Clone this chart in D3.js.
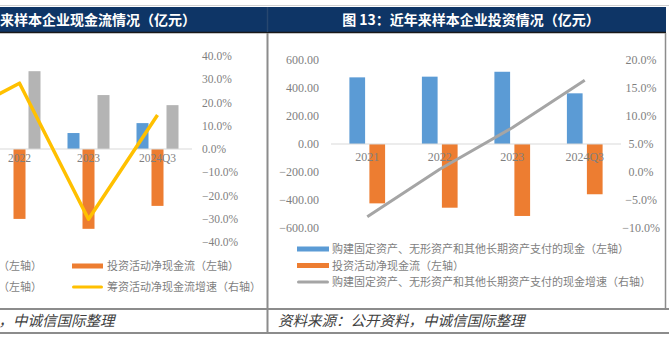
<!DOCTYPE html>
<html>
<head>
<meta charset="utf-8">
<script src="https://cdn.jsdelivr.net/npm/d3@7"></script>
<style>
  body { margin: 0; background: #fff; }
  svg { display: block; }
  .tick-num { font-family: "Liberation Serif", "DejaVu Serif", serif; fill: #7f7f7f; }
  .cjk { font-family: "Noto Sans CJK SC", sans-serif; }
</style>
</head>
<body>
<div id="chart"></div>
<script>
// categories shared by both figures
const categories = ['2021', '2022', '2023', '2024Q3'];

// figure 12 (cut off at the left): cash flow, 亿元 / %
const fig12Series = ['经营活动净现金流（左轴）', '投资活动净现金流（左轴）', '筹资活动净现金流（左轴）'];
const operatingCash = [250, 0, 103, 167];
const investingCash12 = [-424, -451, -515, -367];
const financingCash = [392, 502, 348, 283];
const financingGrowth = [12.7, 28.3, -30.2, 14.6];
const fig12RightTicks = [-40, -30, -20, -10, 0, 10, 20, 30, 40];

// figure 13: investment, 亿元 / %
const capexCash = [476, 481, 516, 362];
const investingCash13 = [-424, -455, -514, -359];
const capexGrowth = [-8.0, 0.5, 7.9, 16.4];
const fig13LeftTicks = [-600, -400, -200, 0, 200, 400, 600];
const fig13RightTicks = [-10, -5, 0, 5, 10, 15, 20];

const W = 669, H = 344;
const BLUE = '#5b9bd5', ORANGE = '#ed7d31', GRAY = '#a5a5a5', YELLOW = '#ffc000';

const svg = d3.select('#chart').append('svg')
  .attr('width', W).attr('height', H);

// ---------- frame ----------
svg.append('line').attr('x1', 0).attr('x2', W).attr('y1', 5.5).attr('y2', 5.5)
  .attr('stroke', '#d0d0d0').attr('stroke-width', 1);
svg.append('rect').attr('x', 0).attr('y', 7).attr('width', 666).attr('height', 25)
  .attr('fill', '#0e3566');
svg.append('line').attr('x1', 0).attr('x2', 666).attr('y1', 32.5).attr('y2', 32.5)
  .attr('stroke', '#1a1a1a').attr('stroke-width', 1.5);
svg.append('line').attr('x1', 267.5).attr('x2', 267.5).attr('y1', 7).attr('y2', 32)
  .attr('stroke', '#27476f').attr('stroke-width', 1.5);
svg.append('line').attr('x1', 267.5).attr('x2', 267.5).attr('y1', 33).attr('y2', 334)
  .attr('stroke', '#8c8c8c').attr('stroke-width', 2);
svg.append('line').attr('x1', 665.5).attr('x2', 665.5).attr('y1', 33).attr('y2', 309)
  .attr('stroke', '#8c8c8c').attr('stroke-width', 1.5);
[309, 333].forEach(y => {
  svg.append('line').attr('x1', 0).attr('x2', W).attr('y1', y).attr('y2', y)
    .attr('stroke', '#8c8c8c').attr('stroke-width', 2);
});

// titles
svg.append('text').attr('class', 'cjk')
  .attr('x', 196).attr('y', 25).attr('text-anchor', 'end')
  .attr('fill', '#fff').attr('font-size', 14).attr('font-weight', 'bold')
  .text('图 12：近年来样本企业现金流情况（亿元）');
svg.append('text').attr('class', 'cjk')
  .attr('x', 471).attr('y', 25).attr('text-anchor', 'middle')
  .attr('fill', '#fff').attr('font-size', 14).attr('font-weight', 'bold')
  .text('图 13：近年来样本企业投资情况（亿元）');

// source lines
svg.append('text').attr('class', 'cjk')
  .attr('x', -132).attr('y', 326).attr('font-size', 14.5).attr('font-style', 'italic')
  .attr('fill', '#404040')
  .text('资料来源：公开资料，中诚信国际整理');
svg.append('text').attr('class', 'cjk')
  .attr('x', 278).attr('y', 326).attr('font-size', 14.5).attr('font-style', 'italic')
  .attr('fill', '#404040')
  .text('资料来源：公开资料，中诚信国际整理');

// ---------- figure 12 ----------
{
  const g = svg.append('g');
  const x0 = d3.scaleBand().domain(categories).range([-84, 192]);
  const x1 = d3.scaleBand().domain(fig12Series)
    .range([(x0.bandwidth() - 45) / 2, (x0.bandwidth() + 45) / 2])
    .paddingInner(0.2).paddingOuter(0.1);
  const yL = d3.scaleLinear().domain([-600, 600]).range([242, 56]);
  const yR = d3.scaleLinear().domain([-40, 40]).range([242, 56]);

  const rows = categories.map((c, i) => ({
    cat: c,
    vals: [operatingCash[i], investingCash12[i], financingCash[i]]
  }));
  const colors = [BLUE, ORANGE, '#b4b4b4'];
  const grp = g.selectAll('g.cat').data(rows).enter().append('g')
    .attr('transform', d => `translate(${x0(d.cat)},0)`);
  grp.selectAll('rect').data(d => d.vals.map((v, k) => ({ v, k })))
    .enter().append('rect')
    .attr('x', d => x1(fig12Series[d.k]))
    .attr('width', x1.bandwidth())
    .attr('y', d => yL(Math.max(0, d.v)))
    .attr('height', d => Math.abs(yL(d.v) - yL(0)))
    .attr('fill', d => colors[d.k]);

  // zero line
  g.append('line').attr('x1', -84).attr('x2', 192)
    .attr('y1', yL(0)).attr('y2', yL(0)).attr('stroke', '#d9d9d9').attr('stroke-width', 1);

  // category labels (2021 lies outside the crop, as in the source)
  g.selectAll('text.cat').data(categories.slice(1)).enter().append('text')
    .attr('class', 'tick-num').attr('font-size', 11.5)
    .attr('x', d => x0(d) + x0.bandwidth() / 2).attr('y', yL(0) + 13)
    .attr('text-anchor', 'middle').text(d => d);

  // growth line
  const line = d3.line()
    .x((d, i) => x0(categories[i]) + x0.bandwidth() / 2)
    .y(d => yR(d));
  g.append('path').datum(financingGrowth)
    .attr('fill', 'none').attr('stroke', YELLOW).attr('stroke-width', 3.5)
    .attr('stroke-linejoin', 'round').attr('d', line);

  // right axis
  const ax = g.append('g').attr('transform', 'translate(202,0)')
    .call(d3.axisRight(yR).tickValues(fig12RightTicks).tickSize(0).tickPadding(0)
      .tickFormat(d => d3.format('.1f')(d) + '%'));
  ax.select('.domain').remove();
  ax.selectAll('text').attr('class', 'tick-num').attr('font-size', 11.5)
    .attr('fill', '#7f7f7f').attr('font-family', null);

  // legend
  const legend = [
    { name: fig12Series[0], color: BLUE, type: 'rect', col: 0, row: 0 },
    { name: fig12Series[1], color: ORANGE, type: 'rect', col: 1, row: 0 },
    { name: fig12Series[2], color: '#b4b4b4', type: 'rect', col: 0, row: 1 },
    { name: '筹资活动净现金流增速（右轴）', color: YELLOW, type: 'line', col: 1, row: 1 }
  ];
  const colX = [-125, 72];
  legend.forEach(d => {
    const lx = colX[d.col], ly = 266 + d.row * 21;
    if (d.type === 'rect') {
      g.append('rect').attr('x', lx).attr('y', ly - 2.5).attr('width', 31).attr('height', 5)
        .attr('fill', d.color);
    } else {
      g.append('line').attr('x1', lx + 1.5).attr('x2', lx + 29.5).attr('y1', ly).attr('y2', ly)
        .attr('stroke', d.color).attr('stroke-width', 3).attr('stroke-linecap', 'round');
    }
    g.append('text').attr('class', 'cjk').attr('x', lx + 35).attr('y', ly + 4)
      .attr('font-size', 11).attr('fill', '#7f7f7f').text(d.name);
  });
}

// ---------- figure 13 ----------
{
  const g = svg.append('g');
  const fig13Series = ['购建固定资产、无形资产和其他长期资产支付的现金（左轴）', '投资活动净现金流（左轴）'];
  const x0 = d3.scaleBand().domain(categories).range([331, 621]);
  const x1 = d3.scaleBand().domain(fig13Series)
    .range([x0.bandwidth() / 2 - 20, x0.bandwidth() / 2 + 20])
    .paddingInner(0.215).paddingOuter(0.1075);
  const yL = d3.scaleLinear().domain([-600, 600]).range([228, 60]);
  const yR = d3.scaleLinear().domain([-10, 20]).range([228, 60]);

  const rows = categories.map((c, i) => ({ cat: c, vals: [capexCash[i], investingCash13[i]] }));
  const colors = [BLUE, ORANGE];
  const grp = g.selectAll('g.cat').data(rows).enter().append('g')
    .attr('transform', d => `translate(${x0(d.cat)},0)`);
  grp.selectAll('rect').data(d => d.vals.map((v, k) => ({ v, k })))
    .enter().append('rect')
    .attr('x', d => x1(fig13Series[d.k]))
    .attr('width', x1.bandwidth())
    .attr('y', d => yL(Math.max(0, d.v)))
    .attr('height', d => Math.abs(yL(d.v) - yL(0)))
    .attr('fill', d => colors[d.k]);

  g.append('line').attr('x1', 331).attr('x2', 621)
    .attr('y1', yL(0)).attr('y2', yL(0)).attr('stroke', '#d9d9d9').attr('stroke-width', 1);

  g.selectAll('text.cat').data(categories).enter().append('text')
    .attr('class', 'tick-num').attr('font-size', 12)
    .attr('x', d => x0(d) + x0.bandwidth() / 2).attr('y', yL(0) + 17)
    .attr('text-anchor', 'middle').text(d => d);

  const line = d3.line()
    .x((d, i) => x0(categories[i]) + x0.bandwidth() / 2)
    .y(d => yR(d));
  g.append('path').datum(capexGrowth)
    .attr('fill', 'none').attr('stroke', GRAY).attr('stroke-width', 3)
    .attr('stroke-linejoin', 'round').attr('d', line);

  const axL = g.append('g').attr('transform', 'translate(319,0)')
    .call(d3.axisLeft(yL).tickValues(fig13LeftTicks).tickSize(0).tickPadding(0)
      .tickFormat(d3.format('.2f')));
  axL.select('.domain').remove();
  axL.selectAll('text').attr('class', 'tick-num').attr('font-size', 12)
    .attr('fill', '#7f7f7f').attr('font-family', null);

  const axR = g.append('g').attr('transform', 'translate(641,0)')
    .call(d3.axisRight(yR).tickValues(fig13RightTicks).tickSize(0).tickPadding(0)
      .tickFormat(d => d3.format('.1f')(d) + '%'));
  axR.select('.domain').remove();
  axR.selectAll('text').attr('class', 'tick-num').attr('font-size', 12)
    .attr('fill', '#7f7f7f').attr('font-family', null).attr('text-anchor', 'middle');

  const legend = [
    { name: fig13Series[0], color: BLUE, type: 'rect' },
    { name: fig13Series[1], color: ORANGE, type: 'rect' },
    { name: '购建固定资产、无形资产和其他长期资产支付的现金增速（右轴）', color: GRAY, type: 'line' }
  ];
  legend.forEach((d, i) => {
    const lx = 297, ly = 249 + i * 16.5;
    if (d.type === 'rect') {
      g.append('rect').attr('x', lx).attr('y', ly - 2.5).attr('width', 32).attr('height', 5)
        .attr('fill', d.color);
    } else {
      g.append('line').attr('x1', lx + 1.5).attr('x2', lx + 30.5).attr('y1', ly).attr('y2', ly)
        .attr('stroke', d.color).attr('stroke-width', 3).attr('stroke-linecap', 'round');
    }
    g.append('text').attr('class', 'cjk').attr('x', lx + 35).attr('y', ly + 4)
      .attr('font-size', 11).attr('fill', '#7f7f7f').text(d.name);
  });
}
</script>
</body>
</html>
